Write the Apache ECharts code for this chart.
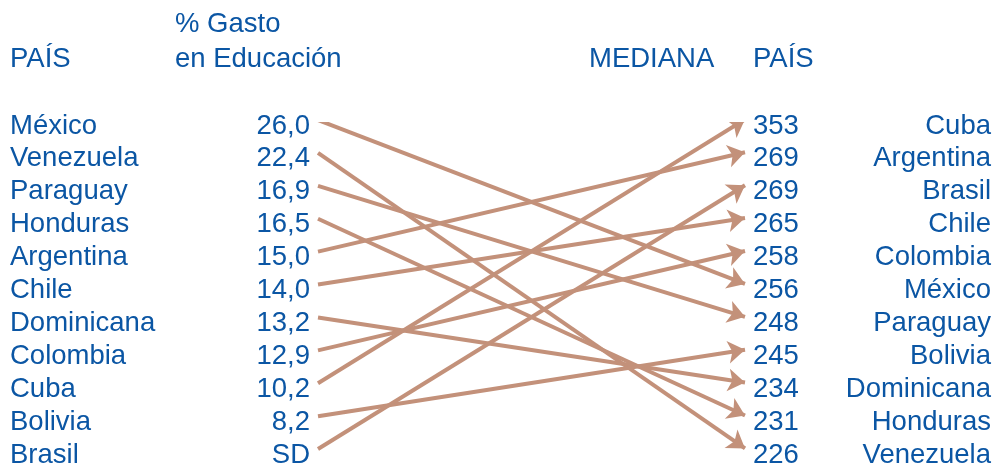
<!DOCTYPE html>
<html>
<head>
<meta charset="utf-8">
<script src="https://cdn.jsdelivr.net/npm/echarts@6/dist/echarts.min.js"></script>
<style>
  html, body { margin: 0; padding: 0; background: #ffffff; }
  #chart { width: 997px; height: 466px; }
</style>
</head>
<body>
<div id="chart"></div>
<script>
// Ranking por gasto en educación (izquierda) y por mediana de desempeño (derecha)
const paisesGasto = ['México', 'Venezuela', 'Paraguay', 'Honduras', 'Argentina', 'Chile',
  'Dominicana', 'Colombia', 'Cuba', 'Bolivia', 'Brasil'];
const gastoEducacion = [26.0, 22.4, 16.9, 16.5, 15.0, 14.0, 13.2, 12.9, 10.2, 8.2, null];

const paisesMediana = ['Cuba', 'Argentina', 'Brasil', 'Chile', 'Colombia', 'México',
  'Paraguay', 'Bolivia', 'Dominicana', 'Honduras', 'Venezuela'];
const mediana = [353, 269, 269, 265, 258, 256, 248, 245, 234, 231, 226];

const encabezados = {
  pais: 'PAÍS',
  gasto: ['% Gasto', 'en Educación'],
  mediana: 'MEDIANA'
};

const AZUL = '#0b56a4';
const FLECHA = '#c3917a';
const FUENTE = '27.5px "Liberation Sans", Arial, sans-serif';

// Column anchors on the horizontal axis (pixel-like units 0..997)
const COL = {
  nombreIzq: 10, valorIzq: 310, inicio: 318, fin: 745, valorDer: 753, nombreDer: 991,
  gastoHdr: 175, medianaHdr: 589
};

function formatoGasto(v) {
  return v == null ? 'SD' : v.toFixed(1).replace('.', ',');
}

function textoColumna(textos, x, align) {
  return {
    type: 'custom',
    coordinateSystem: 'cartesian2d',
    silent: true,
    data: textos.map((t, i) => [x, i, t]),
    renderItem: function (params, api) {
      const p = api.coord([api.value(0), api.value(1)]);
      return {
        type: 'text',
        x: p[0], y: p[1] + 2,
        style: {
          text: textos[params.dataIndex],
          fill: AZUL, font: FUENTE,
          align: align, verticalAlign: 'middle'
        }
      };
    }
  };
}

const flechas = paisesGasto.map((p, i) => {
  const j = paisesMediana.indexOf(p);
  return { coords: [[COL.inicio, i - 0.12], [COL.fin, j - 0.14]] };
});

function encabezado(texto, x, y) {
  return {
    type: 'text', x: x, y: y,
    style: { text: texto, fill: AZUL, font: FUENTE, align: 'left', verticalAlign: 'middle' }
  };
}

const chart = echarts.init(document.getElementById('chart'), null, { renderer: 'canvas' });
chart.setOption({
  animation: false,
  backgroundColor: '#ffffff',
  grid: { left: 0, right: 0, top: 124, bottom: 466 - 453 },
  xAxis: { type: 'value', min: 0, max: 997, show: false },
  yAxis: { type: 'value', min: 0, max: 10, inverse: true, show: false },
  graphic: [
    encabezado(encabezados.pais, COL.nombreIzq, 59),
    encabezado(encabezados.gasto[0], COL.gastoHdr, 24),
    encabezado(encabezados.gasto[1], COL.gastoHdr, 59),
    encabezado(encabezados.mediana, COL.medianaHdr, 59),
    encabezado(encabezados.pais, COL.valorDer, 59)
  ],
  series: [
    {
      type: 'lines',
      coordinateSystem: 'cartesian2d',
      silent: true,
      symbol: ['none', 'arrow'],
      symbolSize: [0, 17],
      lineStyle: { color: FLECHA, width: 4, opacity: 1, curveness: 0 },
      itemStyle: { color: FLECHA },
      data: flechas
    },
    textoColumna(paisesGasto, COL.nombreIzq, 'left'),
    textoColumna(gastoEducacion.map(formatoGasto), COL.valorIzq, 'right'),
    textoColumna(mediana.map(String), COL.valorDer, 'left'),
    textoColumna(paisesMediana, COL.nombreDer, 'right')
  ]
});
</script>
</body>
</html>
